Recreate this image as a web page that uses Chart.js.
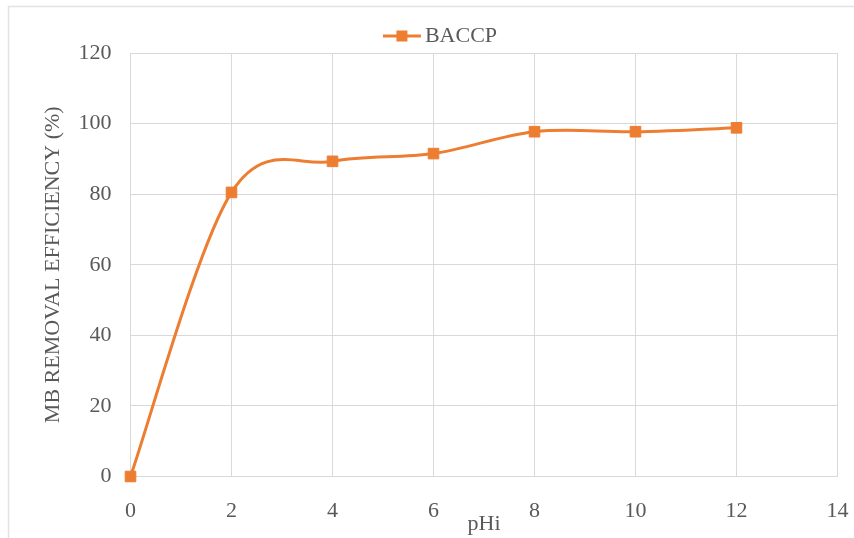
<!DOCTYPE html>
<html>
<head>
<meta charset="utf-8">
<script src="https://cdn.jsdelivr.net/npm/chart.js@4/dist/chart.umd.min.js"></script>
<style>
html,body{margin:0;padding:0;background:#fff;}
#wrap{width:854px;height:538px;position:relative;}
</style>
</head>
<body>
<div id="wrap"><canvas id="c" width="854" height="538"></canvas></div>
<script>
const xValues = [0, 2, 4, 6, 8, 10, 12];
const baccp = [0, 80.5, 89.3, 91.5, 97.7, 97.7, 98.8];
const seriesName = 'BACCP';
const xTitle = 'pHi';
const yTitle = 'MB REMOVAL EFFICIENCY (%)';

const ORANGE = '#ED7D31';
const TEXT = '#595959';
const GRID = '#D9D9D9';
const FONT = "'Liberation Serif', 'Times New Roman', serif";

// outer frame
const framePlugin = {
  id: 'frame',
  beforeDraw(chart) {
    const ctx = chart.ctx;
    ctx.save();
    ctx.fillStyle = '#fff';
    ctx.fillRect(0, 0, chart.width, chart.height);
    ctx.strokeStyle = '#E2E2E2';
    ctx.lineWidth = 1.5;
    ctx.strokeRect(8.5, 6.5, chart.width + 20, chart.height + 20);
    ctx.restore();
  }
};

// Excel-like (Catmull-Rom) smoothing of the library's own point positions
const excelSmooth = {
  id: 'excelSmooth',
  beforeDatasetsDraw(chart) {
    chart.data.datasets.forEach((d, di) => {
      const meta = chart.getDatasetMeta(di);
      const pts = meta.data;
      const n = pts.length;
      for (let i = 0; i < n; i++) {
        const p = pts[i];
        const prev = pts[Math.max(i - 1, 0)];
        const next = pts[Math.min(i + 1, n - 1)];
        const dx = (next.x - prev.x) / 6, dy = (next.y - prev.y) / 6;
        p.cp1x = p.x - dx; p.cp1y = p.y - dy;
        p.cp2x = p.x + dx; p.cp2y = p.y + dy;
      }
      if (meta.dataset) {
        meta.dataset._pointsUpdated = true;
        meta.dataset._path = undefined;
      }
    });
  }
};

// legend with line + square marker
const legendPlugin = {
  id: 'lineLegend',
  afterDraw(chart) {
    const ctx = chart.ctx;
    const ds = chart.data.datasets[0];
    ctx.save();
    ctx.font = '22px ' + FONT;
    const tw = ctx.measureText(ds.label).width;
    const lineW = 38, gap = 4;
    const total = lineW + gap + tw;
    const cx = 440;
    const x0 = cx - total / 2;
    const y = 36;
    ctx.strokeStyle = ds.borderColor;
    ctx.lineWidth = 3;
    ctx.beginPath();
    ctx.moveTo(x0, y);
    ctx.lineTo(x0 + lineW, y);
    ctx.stroke();
    ctx.fillStyle = ds.pointBackgroundColor;
    ctx.fillRect(x0 + lineW / 2 - 5.5, y - 5.5, 11, 11);
    ctx.fillStyle = TEXT;
    ctx.textBaseline = 'middle';
    ctx.textAlign = 'left';
    ctx.fillText(ds.label, x0 + lineW + gap, y);
    ctx.restore();
  }
};

new Chart(document.getElementById('c'), {
  type: 'line',
  data: {
    datasets: [{
      label: seriesName,
      data: xValues.map((x, i) => ({ x: x, y: baccp[i] })),
      borderColor: ORANGE,
      backgroundColor: ORANGE,
      pointBackgroundColor: ORANGE,
      pointBorderColor: ORANGE,
      borderWidth: 3,
      pointStyle: 'rect',
      pointRadius: 7.5,
      pointBorderWidth: 1,
      tension: 0.4,
      fill: false,
      clip: false
    }]
  },
  options: {
    responsive: false,
    animation: false,
    devicePixelRatio: 1,
    layout: { padding: { left: 0, right: 16.5, top: 53, bottom: 0 } },
    plugins: {
      legend: { display: false },
      tooltip: { enabled: false }
    },
    scales: {
      x: {
        type: 'linear',
        min: 0, max: 14,
        ticks: { stepSize: 2, color: TEXT, font: { family: FONT, size: 22 }, padding: 0, maxRotation: 0 },
        grid: { color: GRID, lineWidth: 1, drawTicks: true, tickLength: 22, tickColor: 'rgba(0,0,0,0)' },
        border: { color: GRID, width: 1 },
        title: { display: true, text: xTitle, color: TEXT, font: { family: FONT, size: 22 }, padding: { top: 0, bottom: 1 } },
        afterFit(scale) { scale.height = 61.5; }
      },
      y: {
        type: 'linear',
        min: 0, max: 120,
        ticks: { stepSize: 20, color: TEXT, font: { family: FONT, size: 22 }, padding: 19 },
        grid: { color: GRID, lineWidth: 1, drawTicks: false },
        border: { color: GRID, width: 1 },
        title: { display: true, text: yTitle, color: TEXT, font: { family: FONT, size: 22 }, padding: { top: 40, bottom: 0 } },
        afterFit(scale) { scale.width = 130.5; }
      }
    }
  },
  plugins: [framePlugin, excelSmooth, legendPlugin]
});
</script>
</body>
</html>
